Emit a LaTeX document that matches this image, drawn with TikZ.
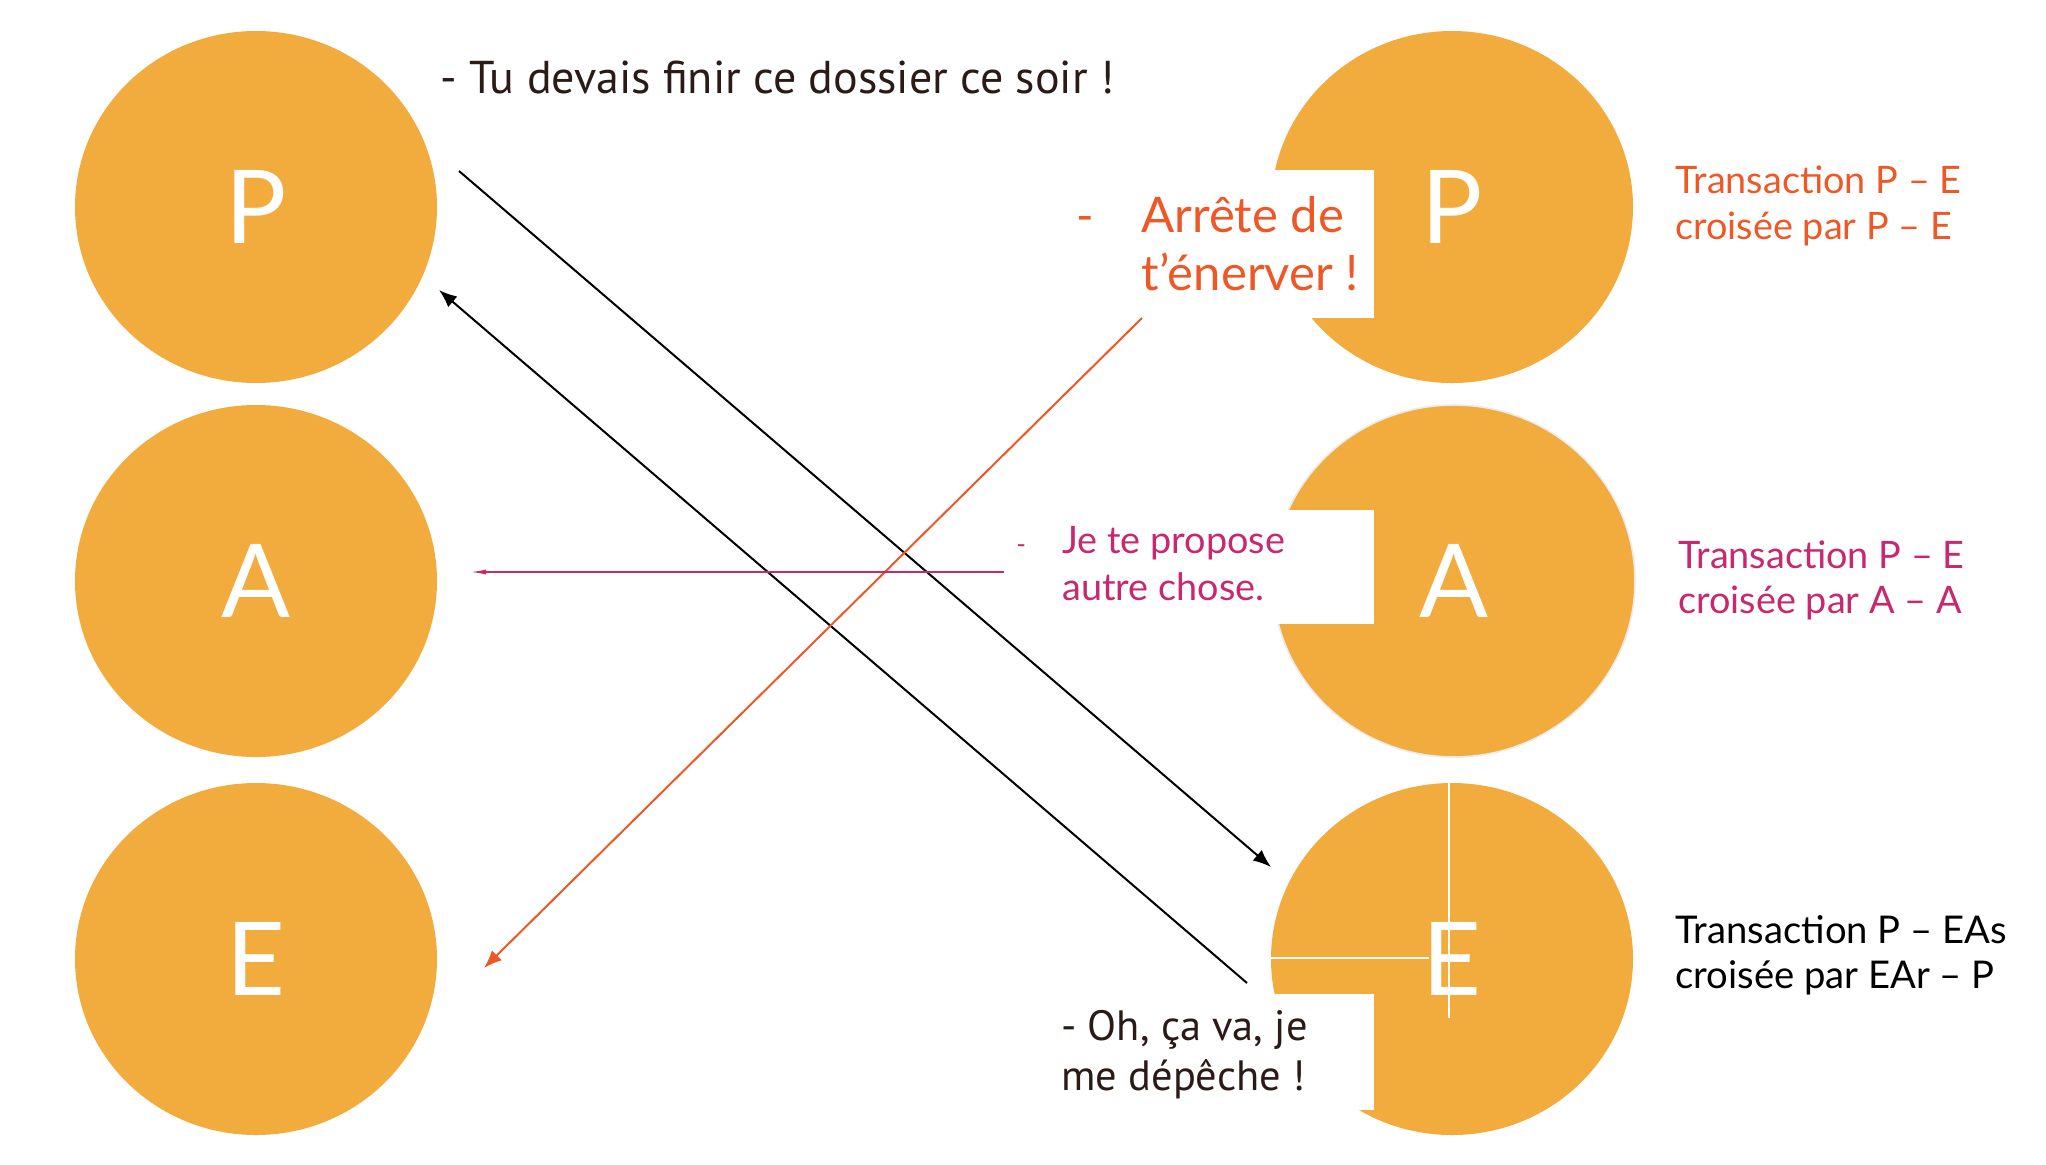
\documentclass[tikz,border=0pt]{standalone}
\usepackage{fontspec}
\setmainfont{Lato}
\newfontfamily\condfont{PT Sans}
\usetikzlibrary{arrows.meta,shapes.geometric}
\definecolor{circ}{RGB}{242,172,62}
\definecolor{orng}{RGB}{238,88,38}
\definecolor{pnk}{RGB}{200,40,110}
\definecolor{dark}{RGB}{42,27,22}
\begin{document}
\begin{tikzpicture}[x=0.5pt,y=-0.5pt,
  disc/.style={ellipse,fill=circ,minimum width=181pt,minimum height=176pt,inner sep=0pt,
    text=white,font=\fontsize{51}{60}\selectfont},
  whitebox/.style={fill=white,inner sep=0pt,anchor=north east},
  lbl/.style={inner sep=0pt,anchor=base west,align=left},
  tip/.style={-{Latex[length=9pt,width=7pt]},line width=1pt}]
\useasboundingbox[fill=white] (0,0) rectangle (2046,1164);
% circles
\node[disc] (P1) at (256,207) {P};
\node[disc] (A1) at (256,581) {A};
\node[disc] (E1) at (256,959) {E};
\node[disc] (P2) at (1452,207) {P};
\node[disc,draw=black!8,line width=0.8pt] (A2) at (1454,581) {A};
\node[disc] (E2) at (1452,959) {E};
% white boxes behind the replies
\node[whitebox,minimum width=70pt,minimum height=74pt] (wP) at (1374,170) {};
\node[whitebox,minimum width=70pt,minimum height=57pt] (wA) at (1374,510) {};
\node[whitebox,minimum width=70pt,minimum height=58pt] (wE) at (1374,994) {};
% thin white lines in E
\coordinate (vT) at (1449,783);
\coordinate (vB) at (1449,1018);
\coordinate (hL) at (1271,958);
\coordinate (hR) at (1429,958);
\draw[white,line width=1.2pt] (vT) -- (vB);
\draw[white,line width=1.2pt] (hL) -- (hR);
% texts (multi-line nodes: base = last line)
\node[lbl,text=dark,font=\condfont\fontsize{23}{28}\selectfont] (t1) at (440,93) {- Tu devais finir ce dossier ce soir !};
\node[lbl,text=orng,font=\fontsize{23.7}{29}\selectfont] (d2) at (1076,232) {-};
\node[lbl,text=orng,font=\fontsize{24.5}{29}\selectfont] (t2) at (1141,290) {Arrête de\\t’énerver !};
\node[lbl,text=pnk,font=\fontsize{13}{23.5}\selectfont] (d3) at (1016,553) {-};
\node[lbl,text=pnk,font=\fontsize{18.9}{23.5}\selectfont] (t3) at (1062,600) {Je te propose\\autre chose.};
\node[lbl,text=dark,font=\condfont\fontsize{21.2}{25}\selectfont] (t4) at (1061,1090) {- Oh, ça va, je\\me dépêche !};
\node[lbl,text=orng,font=\fontsize{18.9}{23}\selectfont] (r1) at (1675,239) {Transaction P – E\\croisée par P – E};
\node[lbl,text=pnk,font=\fontsize{18.9}{22.5}\selectfont] (r2) at (1678,613) {Transaction P – E\\croisée par A – A};
\node[lbl,text=black,font=\fontsize{19.1}{22.5}\selectfont] (r3) at (1675,988) {Transaction P – EAs\\croisée par EAr – P};
% arrows
\coordinate (a1s) at (459,171);
\coordinate (a1e) at (1271,867);
\coordinate (a2s) at (1247,983);
\coordinate (a2e) at (439,290);
\coordinate (o1s) at (1142,318);
\coordinate (o1e) at (484,968);
\coordinate (p1s) at (1004,572);
\coordinate (p1e) at (470,572);
\draw[tip,black] (a1s) -- (a1e);
\draw[tip,black] (a2s) -- (a2e);
\draw[tip,orng] (o1s) -- (o1e);
\draw[pnk,line width=0.8pt,-{Latex[length=8pt,width=2.5pt]}] (p1s) -- (p1e);
\end{tikzpicture}
\end{document}
